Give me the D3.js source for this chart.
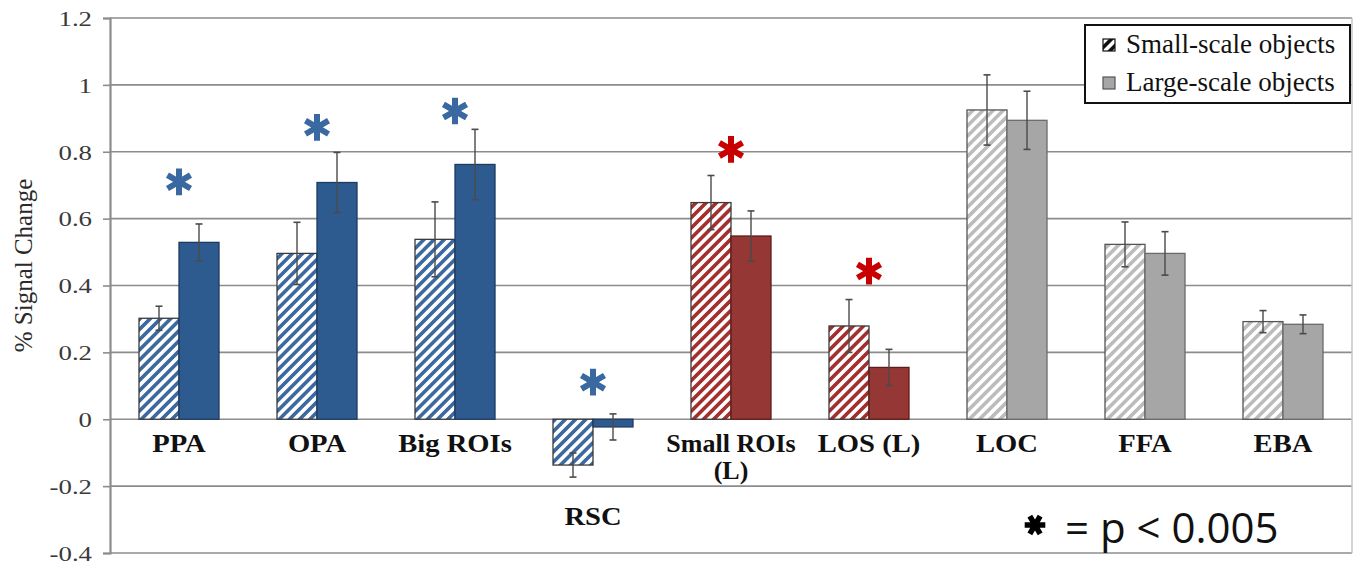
<!DOCTYPE html>
<html>
<head>
<meta charset="utf-8">
<script src="https://cdn.jsdelivr.net/npm/d3@7"></script>
<style>
  body { margin: 0; background: #fff; }
  svg { display: block; }
</style>
</head>
<body>
<svg id="chart" width="1360" height="564"></svg>
<script>
// Region-of-interest responses to small- vs large-scale objects
const categories = ["PPA", "OPA", "Big ROIs", "RSC", "Small ROIs|(L)", "LOS (L)", "LOC", "FFA", "EBA"];
const smallScale = [0.302, 0.496, 0.538, -0.137, 0.648, 0.279, 0.925, 0.523, 0.292];
const smallErr   = [0.036, 0.093, 0.112, 0.036, 0.081, 0.079, 0.105, 0.067, 0.033];
const largeScale = [0.529, 0.708, 0.762, -0.023, 0.548, 0.155, 0.894, 0.496, 0.284];
const largeErr   = [0.055, 0.090, 0.105, 0.039, 0.075, 0.054, 0.087, 0.065, 0.028];
const families   = ["scene", "scene", "scene", "scene", "object", "object", "control", "control", "control"];
const significant = [0.71, 0.873, 0.922, 0.111, 0.807, 0.443, null, null, null];
const yTicks     = [-0.4, -0.2, 0, 0.2, 0.4, 0.6, 0.8, 1, 1.2];
const yTickLabels = ["-0.4", "-0.2", "0", "0.2", "0.4", "0.6", "0.8", "1", "1.2"];
const seriesNames = ["Small-scale objects", "Large-scale objects"];
const yTitle = "% Signal Change";
const pNote = "= p < 0.005";

const palette = {
  scene:   { stripe: "#3b69a0", solid: "#2e5b8f", edge: "#1d3a60", hatchEdge: "#3a3a3a", star: "#3a68a0" },
  object:  { stripe: "#a3302e", solid: "#953735", edge: "#5e1c1b", hatchEdge: "#3a3a3a", star: "#c80000" },
  control: { stripe: "#bcbcbc", solid: "#a6a6a6", edge: "#6a6a6a", hatchEdge: "#555555", star: "#777" }
};

const svg = d3.select("#chart");
const plot = { left: 110, right: 1352, top: 18, bottom: 553 };
const serif = "'Liberation Serif', 'Times New Roman', serif";

const x0 = d3.scaleBand().domain(categories).range([plot.left, plot.right]).padding(0);
const x1 = d3.scaleBand().domain(["small", "large"]).range([29, 109]).padding(0);
const y = d3.scaleLinear().domain([-0.4, 1.2]).range([plot.bottom, plot.top]);

// hatch patterns
const defs = svg.append("defs");
function hatch(id, color, bg) {
  const p = defs.append("pattern")
    .attr("id", id)
    .attr("patternUnits", "userSpaceOnUse")
    .attr("width", 7.2).attr("height", 7.2)
    .attr("patternTransform", "rotate(45)");
  p.append("rect").attr("width", 7.2).attr("height", 7.2).attr("fill", bg);
  p.append("rect").attr("width", 3.6).attr("height", 7.2).attr("fill", color);
}
Object.entries(palette).forEach(([k, c]) => hatch("hatch-" + k, c.stripe, "#fff"));
hatch("hatch-legend", "#111", "#fff");

// gridlines
svg.append("g").selectAll("line").data(yTicks).join("line")
  .attr("x1", plot.left).attr("x2", plot.right)
  .attr("y1", d => y(d)).attr("y2", d => y(d))
  .attr("stroke", "#8c8c8c").attr("stroke-width", 1.6);

// right frame
svg.append("line")
  .attr("x1", plot.right).attr("x2", plot.right)
  .attr("y1", y(1.2)).attr("y2", y(-0.4))
  .attr("stroke", "#c4c4c4").attr("stroke-width", 1.5);

// y axis
const yAxis = d3.axisLeft(y).tickValues(yTicks)
  .tickFormat((d, i) => yTickLabels[i]).tickSize(7);
const gy = svg.append("g").attr("transform", `translate(${plot.left},0)`).call(yAxis);
gy.select(".domain").attr("stroke", "#8c8c8c").attr("stroke-width", 2.2);
gy.selectAll(".tick line").attr("stroke", "#8c8c8c").attr("stroke-width", 1.6);
gy.selectAll(".tick text")
  .attr("x", 0).attr("dy", "0.33em")
  .attr("transform", "translate(-18,0) scale(1.22,1)")
  .attr("font-family", serif).attr("font-size", 22).attr("fill", "#3a3a3a");

svg.append("text")
  .attr("transform", `translate(32,${(y(1.2) + y(-0.4)) / 2 - 20}) rotate(-90)`)
  .attr("text-anchor", "middle")
  .attr("font-family", serif).attr("font-size", 25).attr("fill", "#2a2a2a")
  .text(yTitle);

// bars
const rows = categories.map((c, i) => ({
  cat: c, fam: families[i],
  bars: [
    { key: "small", v: smallScale[i], e: smallErr[i] },
    { key: "large", v: largeScale[i], e: largeErr[i] }
  ]
}));

const groups = svg.append("g").selectAll("g").data(rows).join("g")
  .attr("transform", d => `translate(${x0(d.cat)},0)`);

groups.selectAll("rect.bar").data(d => d.bars.map(b => ({ ...b, fam: d.fam }))).join("rect")
  .attr("class", "bar")
  .attr("x", d => x1(d.key))
  .attr("width", x1.bandwidth())
  .attr("y", d => y(Math.max(0, d.v)))
  .attr("height", d => Math.abs(y(d.v) - y(0)))
  .attr("fill", d => d.key === "small" ? `url(#hatch-${d.fam})` : palette[d.fam].solid)
  .attr("stroke", d => d.key === "small" ? palette[d.fam].hatchEdge : palette[d.fam].edge)
  .attr("stroke-width", 1.3);

// error bars
const eb = groups.selectAll("g.err").data(d => d.bars).join("g").attr("class", "err")
  .attr("transform", d => `translate(${x1(d.key) + x1.bandwidth() / 2},0)`);
eb.append("line")
  .attr("y1", d => y(d.v + d.e)).attr("y2", d => y(d.v - d.e))
  .attr("stroke", "#4a4a4a").attr("stroke-width", 1.4);
eb.selectAll("line.cap").data(d => [d.v + d.e, d.v - d.e]).join("line")
  .attr("class", "cap")
  .attr("x1", -3.5).attr("x2", 3.5)
  .attr("y1", d => y(d)).attr("y2", d => y(d))
  .attr("stroke", "#4a4a4a").attr("stroke-width", 1.6);

// significance markers
const star = d3.symbol(d3.symbolAsterisk, 500);
svg.append("g").selectAll("path")
  .data(rows.map((r, i) => ({ ...r, s: significant[i] })).filter(d => d.s !== null))
  .join("path")
  .attr("d", star)
  .attr("transform", d => `translate(${x0(d.cat) + x0.bandwidth() / 2},${y(d.s)})`)
  .attr("fill", "none")
  .attr("stroke", d => palette[d.fam].star)
  .attr("stroke-width", 6);

// category labels (slightly widened serif bold)
const labels = svg.append("g").selectAll("g").data(rows).join("g")
  .attr("transform", d => {
    const wide = d.cat.includes("|") ? 1.0 : 1.1;
    const ty = d.bars[0].v < 0 ? y(-0.315) : 452;
    return `translate(${x0(d.cat) + x0.bandwidth() / 2},${ty}) scale(${wide},1)`;
  });
labels.each(function (d) {
  const lines = d.cat.split("|");
  d3.select(this).selectAll("text").data(lines).join("text")
    .attr("text-anchor", "middle")
    .attr("y", (l, i) => i * 27)
    .attr("font-family", serif).attr("font-weight", "bold").attr("font-size", 26).attr("fill", "#111")
    .text(l => l);
});

// legend
const lg = svg.append("g").attr("transform", "translate(1085,25)");
lg.append("rect").attr("width", 265).attr("height", 78)
  .attr("fill", "#fff").attr("stroke", "#111").attr("stroke-width", 2);
const li = lg.selectAll("g").data(seriesNames).join("g")
  .attr("transform", (d, i) => `translate(18,${20 + i * 38})`);
li.append("rect").attr("x", 0).attr("y", -6).attr("width", 12).attr("height", 12)
  .attr("fill", (d, i) => i === 0 ? "url(#hatch-legend)" : palette.control.solid)
  .attr("stroke", (d, i) => i === 0 ? "#111" : "#555").attr("stroke-width", 1.2);
li.append("text").attr("x", 23).attr("y", 8)
  .attr("font-family", serif).attr("font-size", 27).attr("fill", "#111")
  .text(d => d);

// p-value note
const note = svg.append("g").attr("transform", "translate(1035,525)");
note.append("path").attr("d", d3.symbol(d3.symbolAsterisk, 300)())
  .attr("transform", "rotate(90)")
  .attr("fill", "none").attr("stroke", "#000").attr("stroke-width", 5.5);
note.append("text").attr("x", 30).attr("y", 18)
  .attr("font-family", "'Open Sans', sans-serif").attr("font-size", 42).attr("fill", "#111")
  .text(pNote);
</script>
</body>
</html>
